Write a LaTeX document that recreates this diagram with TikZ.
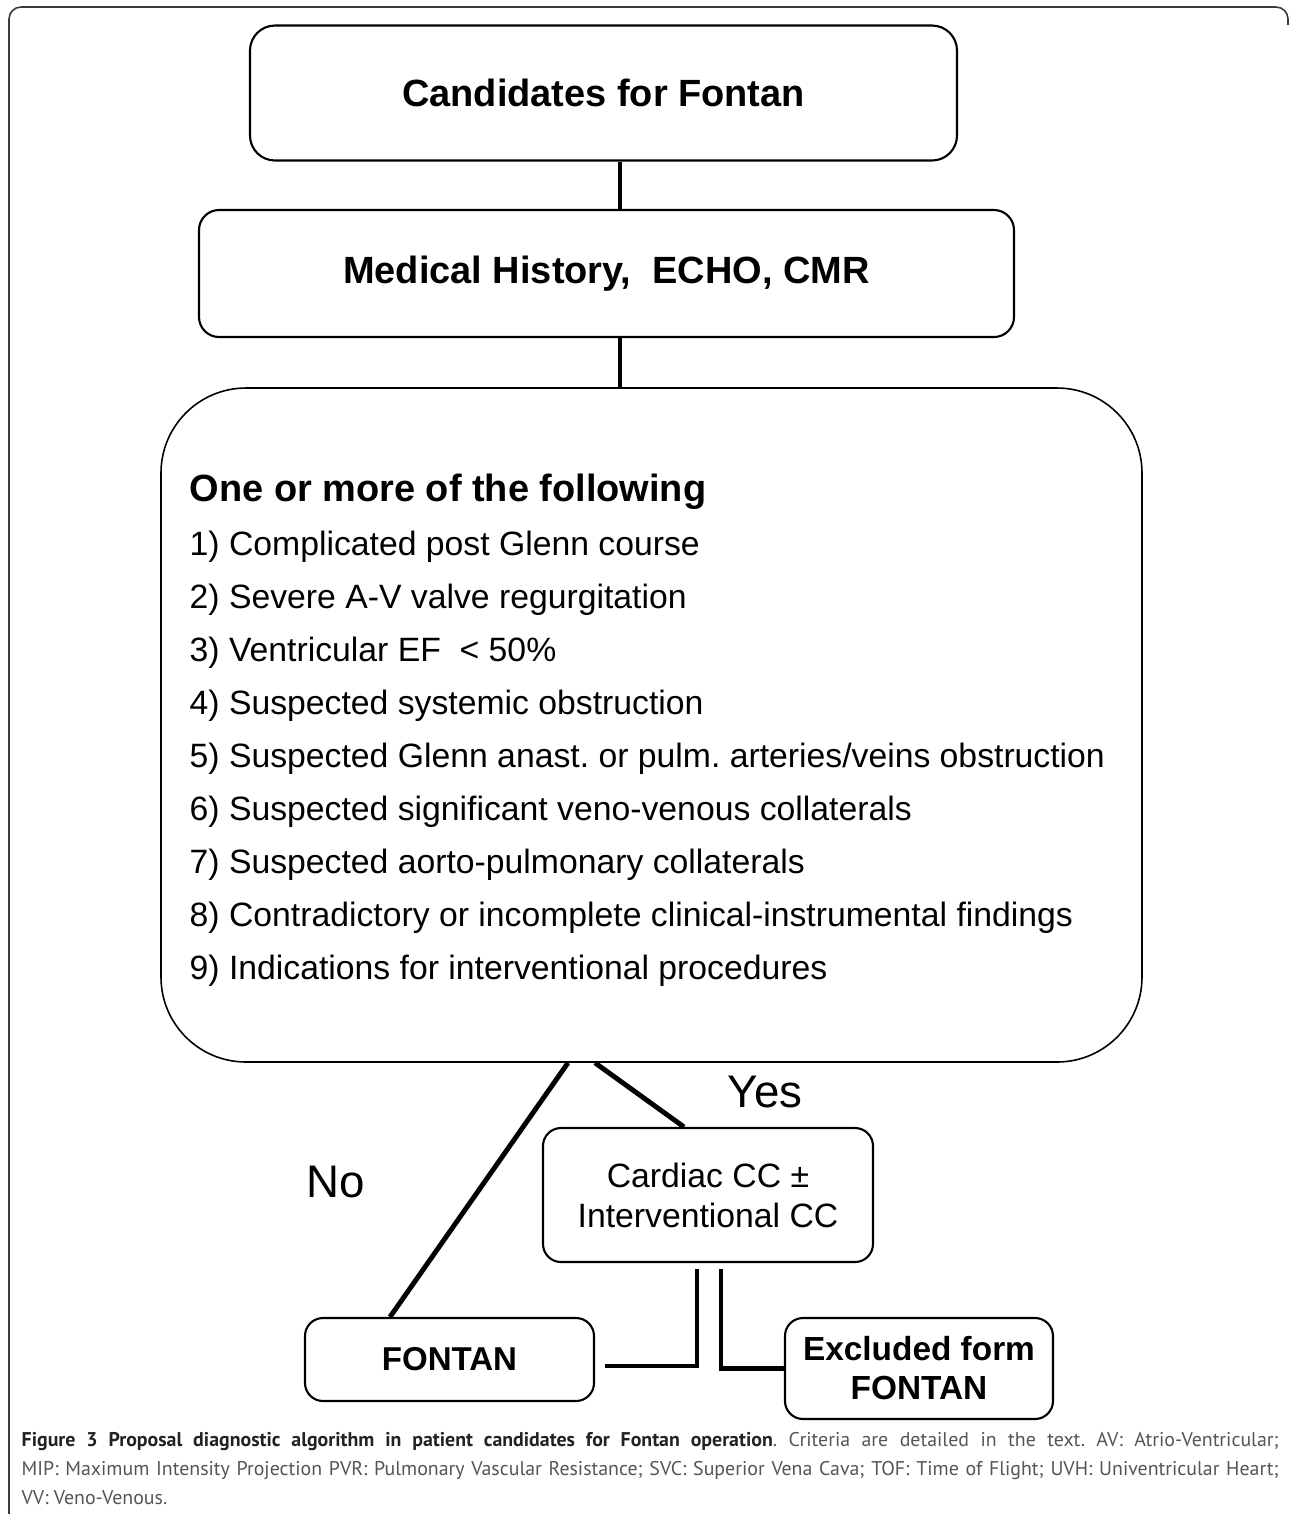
\documentclass[tikz,border=0pt]{standalone}
\usepackage{fontspec}
\setmainfont{Liberation Sans}
\newfontfamily\capfont{PT Sans}
\usetikzlibrary{positioning,calc}
\frenchspacing

\definecolor{framegray}{HTML}{3A3A3A}
\definecolor{capgray}{HTML}{555555}
\definecolor{capdark}{HTML}{222222}

\newcommand\headfont{\fontsize{10.8}{13}\selectfont\bfseries}
\newcommand\itemfont{\fontsize{9.6}{11.5}\selectfont}

\tikzset{
  box/.style={draw, line width=0.6pt, rounded corners=1.8mm, align=center, inner sep=0pt},
  link/.style={line width=1.4pt},
  item/.style={anchor=base west, inner sep=0pt, font=\itemfont},
}

\begin{document}
\begin{tikzpicture}
  \useasboundingbox (0,0) rectangle (12.9,-15.14);
  % frame round the figure
  \draw[framegray, line width=0.45pt, rounded corners=1.2mm]
    (0.09,-15.3) -- (0.09,-0.07) -- (12.88,-0.07) -- (12.88,-0.25);

  \node[box, minimum width=7.07cm, minimum height=1.35cm, rounded corners=2.5mm, font=\headfont] (cand) at (6.035,-0.93) {Candidates for Fontan};
  \node[box, minimum width=8.15cm, minimum height=1.27cm, rounded corners=2mm, font=\headfont] (hist) at (6.065,-2.735) {Medical History,\ \ ECHO, CMR};
  \node[box, line width=0.45pt, minimum width=9.81cm, minimum height=6.74cm, rounded corners=8.5mm] (crit) at (6.515,-7.25) {};

  % list inside the big box
  \node[item, font=\headfont] (crit0) at (1.89,-5.01) {One or more of the following};
  \node[item] (crit1) at (1.89,-5.55) {1) Complicated post Glenn course};
  \node[item] (crit2) at (1.89,-6.08) {2) Severe A-V valve regurgitation};
  \node[item] (crit3) at (1.89,-6.61) {3) Ventricular EF\ \ < 50\%};
  \node[item] (crit4) at (1.89,-7.14) {4) Suspected systemic obstruction};
  \node[item] (crit5) at (1.89,-7.67) {5) Suspected Glenn anast. or pulm. arteries/veins obstruction};
  \node[item] (crit6) at (1.89,-8.20) {6) Suspected significant veno-venous collaterals};
  \node[item] (crit7) at (1.89,-8.73) {7) Suspected aorto-pulmonary collaterals};
  \node[item] (crit8) at (1.89,-9.26) {8) Contradictory or incomplete clinical-instrumental findings};
  \node[item] (crit9) at (1.89,-9.79) {9) Indications for interventional procedures};

  \node[box, minimum width=3.3cm, minimum height=1.34cm, font=\fontsize{9.6}{11.4}\selectfont] (cath) at (7.08,-11.95) {Cardiac CC ±\\Interventional CC};
  \node[box, minimum width=2.89cm, minimum height=0.83cm, font=\fontsize{9.4}{11}\selectfont\bfseries] (fontan) at (4.495,-13.595) {FONTAN};
  \node[box, minimum width=2.68cm, minimum height=1.01cm, font=\fontsize{9.5}{11.1}\selectfont\bfseries] (excl) at (9.19,-13.685) {Excluded form\\FONTAN};

  \node[font=\fontsize{13}{15}\selectfont] (no) at (3.36,-11.82) {No};
  \node[font=\fontsize{13}{15}\selectfont] (yes) at (7.65,-10.92) {Yes};

  % connectors
  \coordinate (spine) at (6.2,0);
  \draw[link] (cand.south -| spine) -- (hist.north -| spine);
  \draw[link] (hist.south -| spine) -- (crit.north -| spine);
  \draw[link] ([xshift=-8.35mm]crit.south) -- ([xshift=-5.95mm]fontan.north);
  \draw[link] ([xshift=-5.65mm]crit.south) -- ([xshift=-2.4mm]cath.north);
  \draw[link] ([xshift=-1.1mm,yshift=-0.6mm]cath.south) |- ([xshift=1mm,yshift=-0.65mm]fontan.east);
  \draw[link] ([xshift=1.3mm,yshift=-0.6mm]cath.south) |- (excl.west);

  % caption
  \node[anchor=north west, inner sep=0pt, text width=12.57cm, align=justify, text=capgray,
        font=\capfont\fontsize{5.65}{8.25}\selectfont] (cap) at (0.21,-14.32)
    {{\bfseries\color{capdark}Figure 3 Proposal diagnostic algorithm in patient candidates for Fontan operation}. Criteria are detailed in the text. AV: Atrio-Ventricular;\linebreak
     MIP: Maximum Intensity Projection PVR: Pulmonary Vascular Resistance; SVC: Superior Vena Cava; TOF: Time of Flight; UVH: Univentricular Heart;\linebreak
     VV: Veno-Venous.};
\end{tikzpicture}
\end{document}
